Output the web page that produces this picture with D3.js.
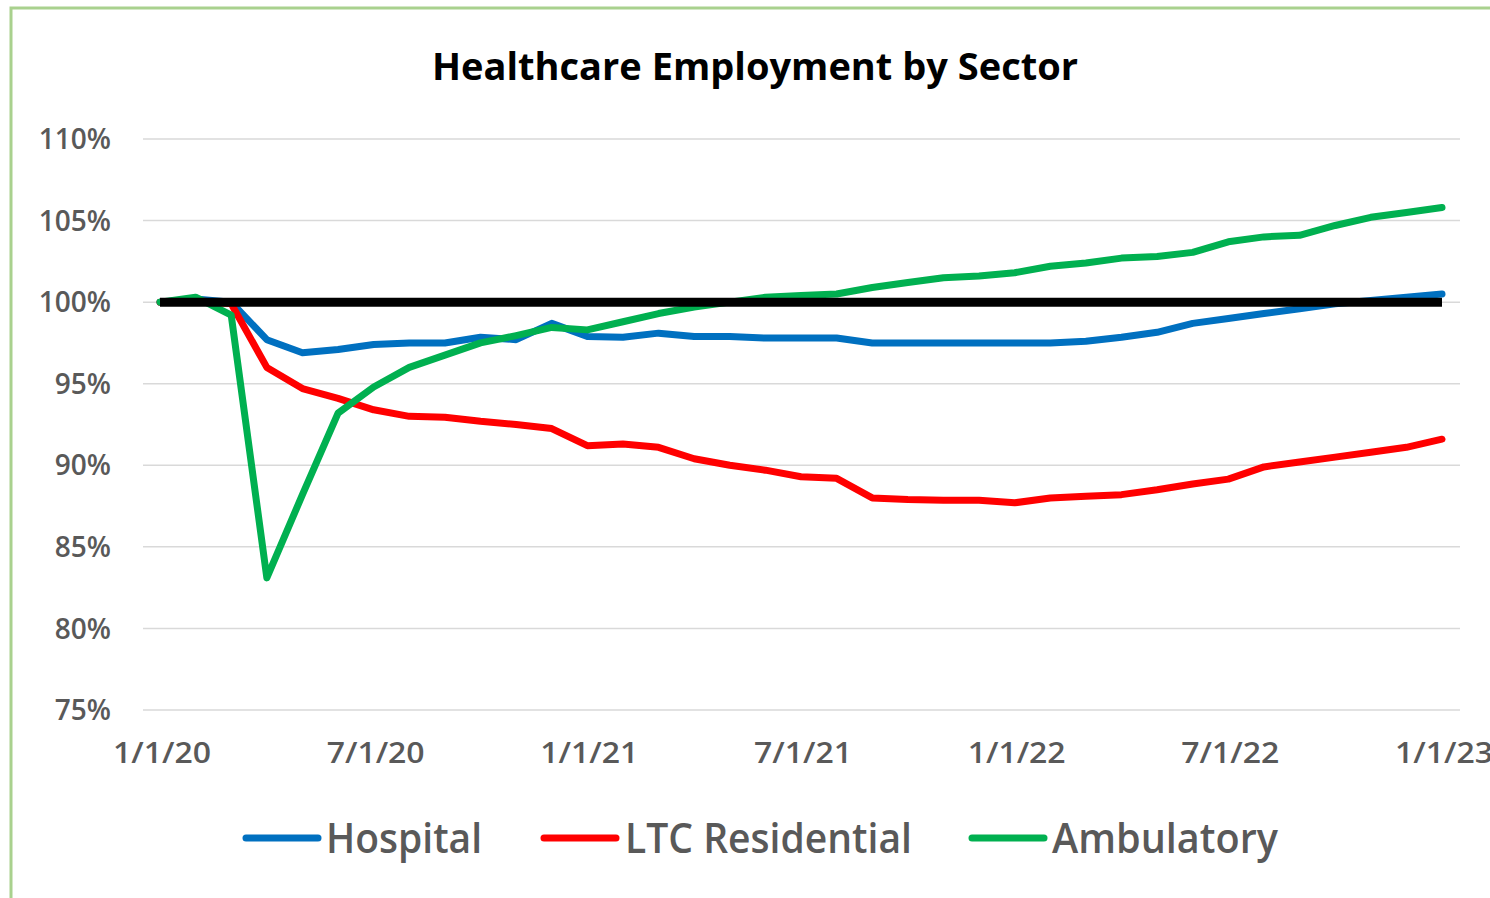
<!DOCTYPE html>
<html>
<head>
    <title>Healthcare Employment by Sector</title>
    <script src="https://d3js.org/d3.v7.min.js"></script>
    <style>
        body { margin: 0; background: #fff; }
        .tick-label { font-family: "Open Sans", sans-serif; font-weight: 600; fill: #595959; }
        .legend-label { font-family: "Open Sans", sans-serif; font-weight: 600; fill: #595959; }
        .title { font-family: "Open Sans", sans-serif; font-weight: 700; fill: #000; }
    </style>
</head>
<body>
    <div id="chart"></div>
    <script>
        // monthly, 1/1/20 .. 1/1/23 (index 0..36)
        const hospital = [100, 100.2, 100, 97.7, 96.9, 97.1, 97.4, 97.5, 97.5, 97.85, 97.7, 98.7,
            97.9, 97.85, 98.1, 97.9, 97.9, 97.8, 97.8, 97.8, 97.5, 97.5, 97.5, 97.5,
            97.5, 97.5, 97.6, 97.85, 98.15, 98.7, 99.0, 99.3, 99.6, 99.9, 100.1, 100.3, 100.5];
        const ltc = [100, 100.1, 99.9, 96.0, 94.7, 94.1, 93.4, 93.0, 92.95, 92.7, 92.5, 92.25,
            91.2, 91.3, 91.1, 90.4, 90.0, 89.7, 89.3, 89.2, 88.0, 87.9, 87.85, 87.85,
            87.7, 88.0, 88.1, 88.2, 88.5, 88.85, 89.15, 89.9, 90.2, 90.5, 90.8, 91.1, 91.6];
        const ambulatory = [100, 100.3, 99.2, 83.1, 88.2, 93.2, 94.8, 96.0, 96.75, 97.5, 97.95, 98.45,
            98.3, 98.8, 99.3, 99.7, 100.0, 100.3, 100.4, 100.5, 100.9, 101.2, 101.5, 101.6,
            101.8, 102.2, 102.4, 102.7, 102.8, 103.05, 103.7, 104.0, 104.1, 104.7, 105.2, 105.5, 105.8];
        const baseline = hospital.map(() => 100);

        const yTicks = [75, 80, 85, 90, 95, 100, 105, 110];
        const xTicks = [0, 6, 12, 18, 24, 30, 36];
        const xTickLabels = ["1/1/20", "7/1/20", "1/1/21", "7/1/21", "1/1/22", "7/1/22", "1/1/23"];

        const series = [
            { name: "Hospital", values: hospital, color: "#0070C0" },
            { name: "LTC Residential", values: ltc, color: "#FF0000" },
            { name: "Ambulatory", values: ambulatory, color: "#00B050" }
        ];

        const width = 1490, height = 898;
        const svg = d3.select("#chart").append("svg")
            .attr("width", width)
            .attr("height", height);

        // 外框
        svg.append("rect")
            .attr("x", 11).attr("y", 8)
            .attr("width", 1500).attr("height", 920)
            .attr("fill", "none")
            .attr("stroke", "#A9D18E")
            .attr("stroke-width", 3);

        const x = d3.scaleLinear().domain([0, 36]).range([160, 1442]);
        const y = d3.scaleLinear().domain([75, 110]).range([710, 139]);

        // 格線
        svg.append("g")
            .selectAll("line")
            .data(yTicks)
            .enter().append("line")
            .attr("x1", 143).attr("x2", 1460)
            .attr("y1", d => y(d)).attr("y2", d => y(d))
            .attr("stroke", "#D9D9D9")
            .attr("stroke-width", 1.5);

        // Y 軸標籤
        svg.append("g")
            .selectAll("text")
            .data(yTicks)
            .enter().append("text")
            .attr("class", "tick-label")
            .attr("x", 111)
            .attr("y", d => y(d))
            .attr("dy", "0.36em")
            .attr("text-anchor", "end")
            .style("font-size", "28px")
            .text(d => d + "%");

        // X 軸標籤
        svg.append("g")
            .selectAll("text")
            .data(xTicks)
            .enter().append("text")
            .attr("class", "tick-label")
            .attr("x", d => x(d) + 2)
            .attr("y", 753)
            .attr("dy", "0.36em")
            .attr("text-anchor", "middle")
            .style("font-size", "29px")
            .attr("textLength", 98)
            .attr("lengthAdjust", "spacingAndGlyphs")
            .text((d, i) => xTickLabels[i]);

        const line = d3.line()
            .x((d, i) => x(i))
            .y(d => y(d));

        series.forEach(s => {
            svg.append("path")
                .datum(s.values)
                .attr("d", line)
                .attr("fill", "none")
                .attr("stroke", s.color)
                .attr("stroke-width", 7)
                .attr("stroke-linejoin", "round")
                .attr("stroke-linecap", "round");
        });

        // 100% 基準線
        svg.append("path")
            .datum(baseline)
            .attr("d", line)
            .attr("fill", "none")
            .attr("stroke", "#000")
            .attr("stroke-width", 9);

        // 標題
        svg.append("text")
            .attr("class", "title")
            .attr("x", 755)
            .attr("y", 67)
            .attr("dy", "0.36em")
            .attr("text-anchor", "middle")
            .style("font-size", "37px")
            .attr("textLength", 646)
            .attr("lengthAdjust", "spacingAndGlyphs")
            .text("Healthcare Employment by Sector");

        // 圖例
        const legendItems = [
            { x: 242, tx: 326, tw: 156 },
            { x: 540, tx: 625, tw: 287 },
            { x: 968, tx: 1052, tw: 226 }
        ];
        series.forEach((s, i) => {
            const item = legendItems[i];
            svg.append("line")
                .attr("x1", item.x + 4).attr("x2", item.x + 76)
                .attr("y1", 838).attr("y2", 838)
                .attr("stroke", s.color)
                .attr("stroke-width", 7)
                .attr("stroke-linecap", "round");
            svg.append("text")
                .attr("class", "legend-label")
                .attr("x", item.tx)
                .attr("y", 838)
                .attr("dy", "0.36em")
                .style("font-size", "41px")
                .attr("textLength", item.tw)
                .attr("lengthAdjust", "spacingAndGlyphs")
                .text(s.name);
        });
    </script>
</body>
</html>
